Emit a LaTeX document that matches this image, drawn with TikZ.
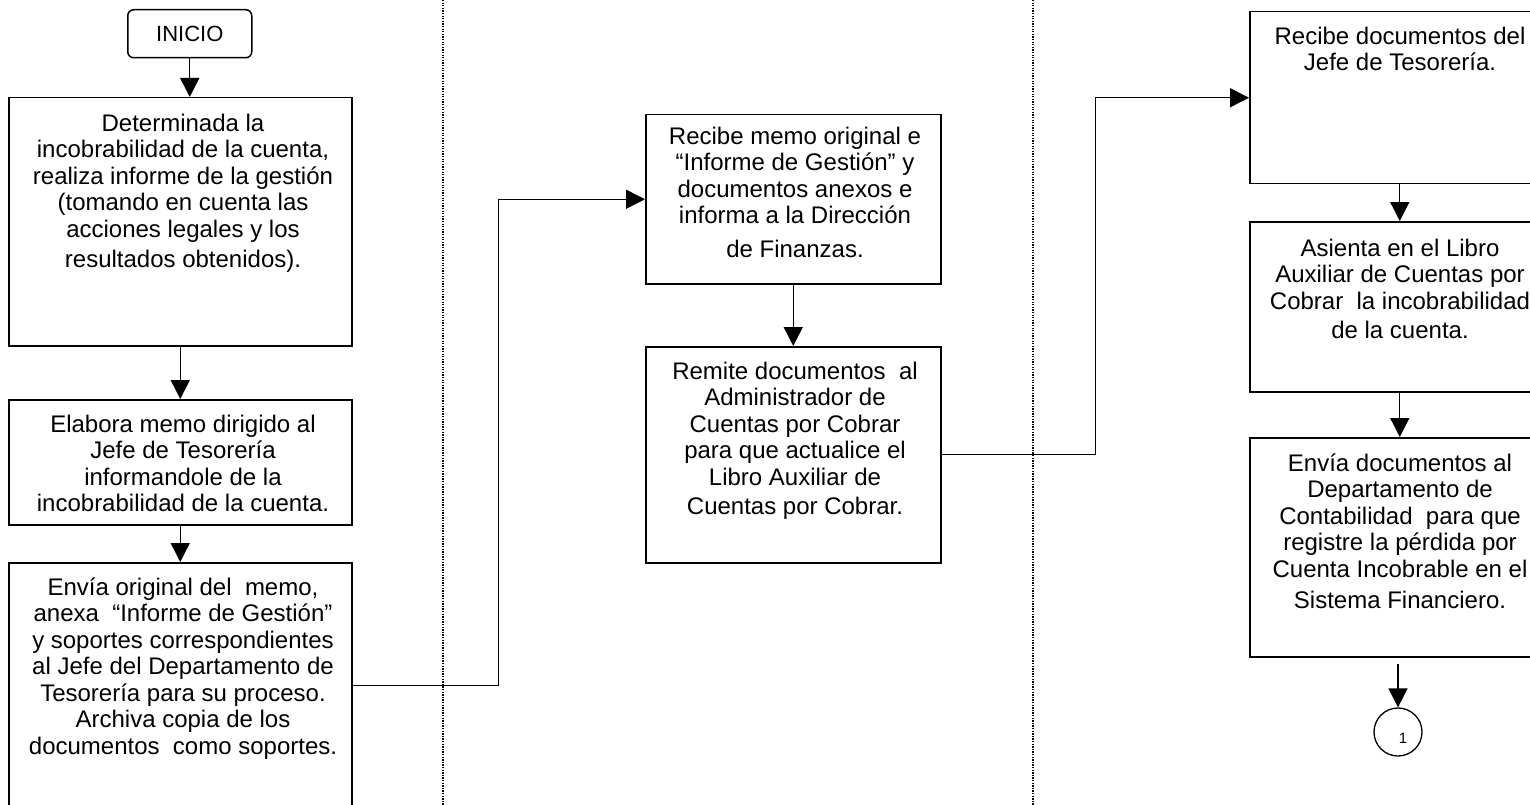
\documentclass[tikz,border=0pt]{standalone}
\usepackage{fontspec}
\setmainfont{Liberation Sans}
\usetikzlibrary{arrows.meta,calc}

\begin{document}
\begin{tikzpicture}[x=1pt,y=-1pt,
  box/.style={draw,line width=1.5pt,inner sep=0pt,anchor=north west},
  txt/.style={anchor=north,inner sep=0pt,align=center,
    font=\fontsize{24}{26.5}\selectfont,execute at begin node=\strut},
  flow/.style={line width=1.4pt,-{Triangle[length=19pt,width=19pt]}},
  lane/.style={line width=1.3pt,dash pattern=on 1.3pt off 1.3pt}]
\useasboundingbox (0,0) rectangle (1530,805);
\clip (0,0) rectangle (1530,805);

% swimlane separators
\coordinate (l1a) at (443,0);  \coordinate (l1b) at (443,805);
\coordinate (l2a) at (1033,0); \coordinate (l2b) at (1033,805);
\draw[lane] (l1a) -- (l1b);
\draw[lane] (l2a) -- (l2b);

% start terminal
\node[draw,line width=1.5pt,rounded corners=6pt,minimum width=124pt,minimum height=48pt,
  anchor=north west,inner sep=0pt,font=\fontsize{22}{24}\selectfont] (inicio) at (127,9) {INICIO};

% first lane
\node[box,minimum width=343pt,minimum height=248pt] (b1) at (8,97) {};
\node[txt] (t1) at (183,113.5) {Determinada la\\incobrabilidad de la cuenta,\\realiza informe de la gestión\\(tomando en cuenta las\\acciones legales y los\\[4pt]resultados obtenidos).};

\node[box,minimum width=343pt,minimum height=125pt] (b2) at (8,399) {};
\node[txt] (t2) at (183,414.5) {Elabora memo dirigido al\\Jefe de Tesorería\\informandole de la\\incobrabilidad de la cuenta.};

\node[box,minimum width=343pt,minimum height=246pt] (b3) at (8,562) {};
\node[txt] (t3) at (183,577.5) {Envía original del~ memo,\\anexa~ “Informe de Gestión”\\y soportes correspondientes\\al Jefe del Departamento de\\Tesorería para su proceso.\\Archiva copia de los\\documentos~ como soportes.};

% second lane
\node[box,minimum width=295pt,minimum height=169pt] (b4) at (645,114) {};
\node[txt] (t4) at (795,126.5) {Recibe memo original e\\“Informe de Gestión” y\\documentos anexos e\\informa a la Dirección\\[7pt]de Finanzas.};

\node[box,minimum width=295pt,minimum height=216pt] (b5) at (645,346) {};
\node[txt] (t5) at (795,361.5) {Remite documentos~ al\\Administrador de\\Cuentas por Cobrar\\para que actualice el\\Libro Auxiliar de\\[3pt]Cuentas por Cobrar.};

% third lane
\node[box,minimum width=300pt,minimum height=172pt] (b6) at (1249,11) {};
\node[txt] (t6) at (1400,26.5) {Recibe documentos del\\Jefe de Tesorería.};

\node[box,minimum width=300pt,minimum height=170pt] (b7) at (1249,221) {};
\node[txt] (t7) at (1400,238.5) {Asienta en el Libro\\Auxiliar de Cuentas por\\Cobrar~ la incobrabilidad\\[3pt]de la cuenta.};

\node[box,minimum width=300pt,minimum height=219pt] (b8) at (1249,437) {};
\node[txt] (t8) at (1400,453.5) {Envía documentos al\\Departamento de\\Contabilidad~ para que\\registre la pérdida por\\Cuenta Incobrable en el\\[5pt]Sistema Financiero.};

% off-page connector
\node[draw,circle,line width=1.3pt,minimum size=48pt,inner sep=0pt] (c1) at (1398,732) {};
\node[inner sep=0pt,font=\fontsize{15}{15}\selectfont] (c1n) at (1403,738) {1};

% flow connectors
\draw[flow] (inicio.south) -- (inicio.south |- b1.north);
\draw[flow] (b1.south) -- (b2.north);
\draw[flow] (b2.south) -- (b3.north);
\draw[flow] (b3.east) -| ($(b3.east)!.5!(b4.west)$) |- (b4.west);
\draw[flow] (b4.south) -- (b5.north);
\draw[flow] (b5.east) -| ($(b5.east)!.5!(b6.west)$) |- (b6.west);
\draw[flow] (b6.south) -- (b7.north);
\draw[flow] (b7.south) -- (b8.north);
\draw[flow,shorten <=6pt] (c1.north |- b8.south) -- (c1.north);
\end{tikzpicture}
\end{document}
